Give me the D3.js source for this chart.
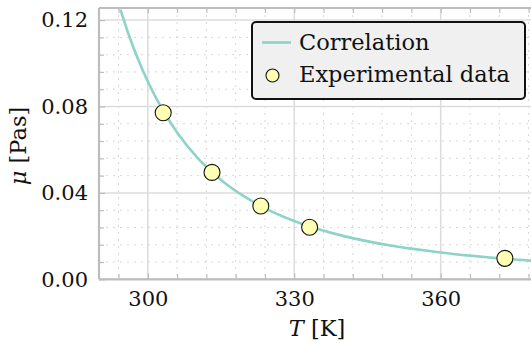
<!DOCTYPE html>
<html>
<head>
    <title>Viscosity vs temperature</title>
    <script src="https://d3js.org/d3.v7.min.js"></script>
    <style>
        body { margin: 0; background: #fff; }
        text { font-family: "DejaVu Serif", serif; fill: #111; }
    </style>
</head>
<body>
    <div id="chart"></div>

    <script>
        // correlation curve (T in K, mu in Pa s)
        var corrT  = [294.4, 296, 298, 300, 303, 306, 310, 315, 320, 325, 330, 335, 340, 350, 360, 370, 380];
        var corrMu = [0.1248, 0.1138, 0.1019, 0.0916, 0.0786, 0.0680, 0.0567, 0.0460, 0.0380, 0.0318, 0.0270, 0.0232, 0.0201, 0.0155, 0.0124, 0.0101, 0.0084];

        // experimental points
        var expT  = [303.15, 313.15, 323.15, 333.15, 373.15];
        var expMu = [0.0771, 0.0495, 0.0339, 0.0241, 0.0097];

        var xTicks = [300, 330, 360];
        var yTicks = [0.00, 0.04, 0.08, 0.12];
        var legendLabels = ["Correlation", "Experimental data"];

        var width = 531, height = 345;
        var mLeft = 99, mRight = 531, mTop = 8, mBottom = 279.3;

        var svg = d3.select("#chart").append("svg")
            .attr("width", width).attr("height", height);

        var x = d3.scaleLinear().domain([290, 378.5]).range([mLeft, mRight]);
        var y = d3.scaleLinear().domain([0, 0.1256]).range([mBottom, mTop]);

        var xMinor = d3.range(288, 380, 6).filter(function(d) { return xTicks.indexOf(d) < 0 && d > 290; });
        var yMinor = d3.range(0, 0.126, 0.008).filter(function(d) {
            return yTicks.every(function(t) { return Math.abs(t - d) > 1e-6; });
        });

        var grid = svg.append("g");
        // minor grid, dotted
        grid.selectAll(".mx").data(xMinor).enter().append("line")
            .attr("x1", x).attr("x2", x).attr("y1", mTop).attr("y2", mBottom)
            .attr("stroke", "#d8d8d8").attr("stroke-width", 1).attr("stroke-dasharray", "2,5");
        grid.selectAll(".my").data(yMinor).enter().append("line")
            .attr("y1", y).attr("y2", y).attr("x1", mLeft).attr("x2", mRight)
            .attr("stroke", "#d8d8d8").attr("stroke-width", 1).attr("stroke-dasharray", "2,5");
        // major grid
        grid.selectAll(".Mx").data(xTicks).enter().append("line")
            .attr("x1", x).attr("x2", x).attr("y1", mTop).attr("y2", mBottom)
            .attr("stroke", "#dcdcdc").attr("stroke-width", 1.5);
        grid.selectAll(".My").data(yTicks).enter().append("line")
            .attr("y1", y).attr("y2", y).attr("x1", mLeft).attr("x2", mRight)
            .attr("stroke", "#dcdcdc").attr("stroke-width", 1.5);

        // axes with inward ticks
        var axisColor = "#bdbdbd";
        function styleAxis(g) {
            g.select(".domain").remove();
            g.selectAll(".tick line").attr("stroke", axisColor).attr("stroke-width", 1.2);
            g.selectAll(".tick text").attr("font-size", 21).attr("fill", "#111")
                .style("font-family", "'DejaVu Serif', serif");
        }

        svg.append("g").attr("transform", "translate(0," + mBottom + ")")
            .call(d3.axisBottom(x).tickValues(xTicks).tickSize(-6).tickPadding(12).tickFormat(d3.format("d")))
            .call(styleAxis);
        svg.append("g").attr("transform", "translate(0," + mBottom + ")")
            .call(d3.axisBottom(x).tickValues(xMinor).tickSize(-5).tickFormat(""))
            .call(styleAxis);
        svg.append("g").attr("transform", "translate(0," + mTop + ")")
            .call(d3.axisTop(x).tickValues(xMinor.concat(xTicks)).tickSize(-5).tickFormat(""))
            .call(styleAxis);

        svg.append("g").attr("transform", "translate(" + mLeft + ",0)")
            .call(d3.axisLeft(y).tickValues(yTicks).tickSize(-6).tickPadding(11).tickFormat(d3.format(".2f")))
            .call(styleAxis);
        svg.append("g").attr("transform", "translate(" + mLeft + ",0)")
            .call(d3.axisLeft(y).tickValues(yMinor).tickSize(-5).tickFormat(""))
            .call(styleAxis);

        // spines
        svg.append("line").attr("x1", mLeft).attr("x2", mRight).attr("y1", mBottom).attr("y2", mBottom)
            .attr("stroke", axisColor).attr("stroke-width", 2.2);
        svg.append("line").attr("x1", mLeft).attr("x2", mRight).attr("y1", mTop).attr("y2", mTop)
            .attr("stroke", axisColor).attr("stroke-width", 2.2);
        svg.append("line").attr("x1", mLeft).attr("x2", mLeft).attr("y1", mTop).attr("y2", mBottom)
            .attr("stroke", axisColor).attr("stroke-width", 2.2);

        // correlation curve
        svg.append("defs").append("clipPath").attr("id", "clip")
            .append("rect").attr("x", mLeft).attr("y", mTop).attr("width", mRight - mLeft).attr("height", mBottom - mTop);

        var line = d3.line()
            .x(function(d, i) { return x(corrT[i]); })
            .y(function(d) { return y(d); })
            .curve(d3.curveMonotoneX);
        svg.append("path").datum(corrMu)
            .attr("clip-path", "url(#clip)")
            .attr("d", line)
            .attr("fill", "none").attr("stroke", "#8dd3c7").attr("stroke-width", 2.6);

        svg.selectAll(".pt").data(expMu).enter().append("circle")
            .attr("cx", function(d, i) { return x(expT[i]); })
            .attr("cy", function(d) { return y(d); })
            .attr("r", 8)
            .attr("fill", "#ffffb3").attr("stroke", "#111").attr("stroke-width", 1.1);

        // axis labels
        var xl = svg.append("text").attr("x", 317).attr("y", 336).attr("text-anchor", "middle").attr("font-size", 22.5);
        xl.append("tspan").attr("font-style", "italic").text("T");
        xl.append("tspan").text(" [K]");

        var yl = svg.append("text").attr("transform", "translate(26,146) rotate(-90)")
            .attr("text-anchor", "middle").attr("font-size", 22.5);
        yl.append("tspan").attr("font-style", "italic").text("μ");
        yl.append("tspan").text(" [Pas]");

        // legend
        var lg = svg.append("g");
        lg.append("rect").attr("x", 252).attr("y", 22).attr("width", 273).attr("height", 77)
            .attr("rx", 4).attr("fill", "#f0f0f0").attr("stroke", "#111").attr("stroke-width", 2);
        lg.append("line").attr("x1", 262).attr("x2", 291).attr("y1", 42.5).attr("y2", 42.5)
            .attr("stroke", "#8dd3c7").attr("stroke-width", 2.6);
        lg.append("circle").attr("cx", 272.5).attr("cy", 75.5).attr("r", 6.5)
            .attr("fill", "#ffffb3").attr("stroke", "#111").attr("stroke-width", 1.1);
        lg.selectAll(".lt").data(legendLabels).enter().append("text")
            .attr("x", 299).attr("y", function(d, i) { return 50 + i * 32; })
            .attr("font-size", 22.5).text(function(d) { return d; });
    </script>
</body>
</html>
